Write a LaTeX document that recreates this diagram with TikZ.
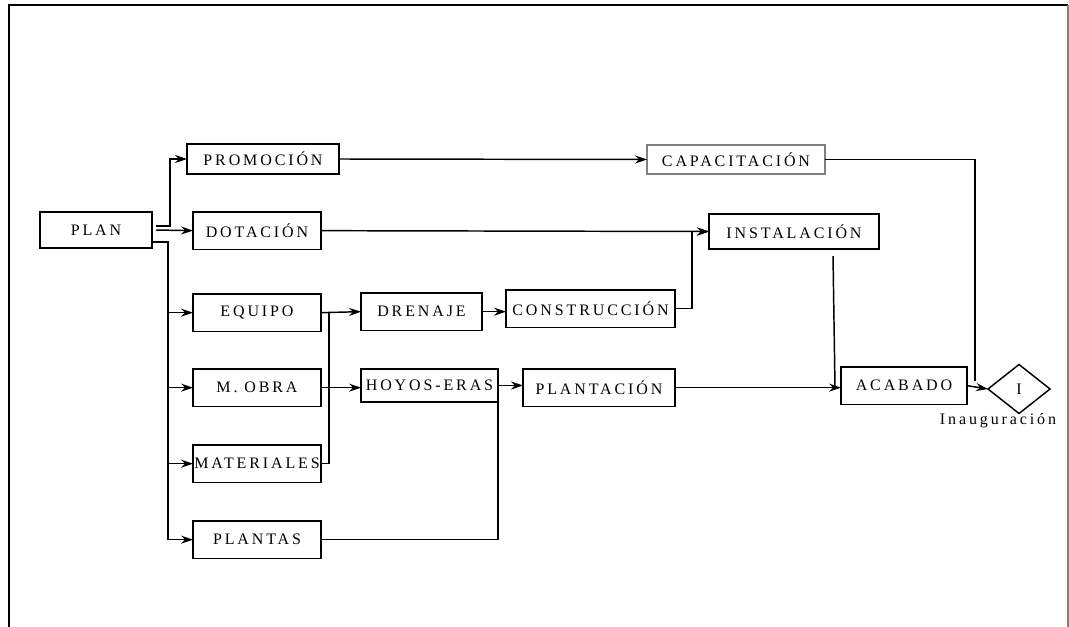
\documentclass[tikz,border=0pt]{standalone}
\usepackage{fontspec}
\setmainfont{Liberation Serif}[LetterSpace=18]
\usepackage{tikz}
\usetikzlibrary{arrows.meta,shapes.geometric}

\begin{document}
\begin{tikzpicture}[x=0.75pt, y=-0.75pt, outer sep=0pt, line width=1.1pt, font=\fontsize{12}{14}\selectfont]

\tikzstyle{box}=[draw, rectangle, inner sep=0pt, minimum height=28pt, anchor=north west]
\tikzstyle{flow}=[-{Stealth[length=9pt, width=6pt, inset=3pt]}]
\useasboundingbox (0,0) rectangle (1069,627);
\draw (9,627) -- (9,5) -- (1068,5); \draw[gray] (1068,5) -- (1068,627);

\node[box, minimum width=84pt, minimum height=27pt] (plan) at (40,212) {PLAN};
\node[box, minimum width=114pt, minimum height=22.5pt] (promocion) at (187,144) {PROMOCIÓN}; \node[box, minimum width=96pt] (dotacion) at (193,212) {DOTACIÓN};
\node[box, minimum width=96pt] (equipo) at (193,294) {EQUIPO}; \node[box, minimum width=96pt] (mobra) at (193,369) {M. OBRA};
\node[box, minimum width=96pt] (materiales) at (193,445) {MATERIALES}; \node[box, minimum width=96pt] (plantas) at (193,521) {PLANTAS};
\node[box, minimum width=90.75pt] (drenaje) at (361,293) {DRENAJE}; \node[box, minimum width=102.75pt, minimum height=24.75pt] (hoyos) at (361,369) {HOYOS-ERAS};
\node[box, minimum width=126.75pt] (construccion) at (506,290) {CONSTRUCCIÓN}; \node[box, minimum width=114pt] (plantacion) at (523,369) {PLANTACIÓN};
\node[box, minimum width=127.5pt, minimum height=26.25pt] (instalacion) at (709,214) {INSTALACIÓN};
\node[box, draw=gray, minimum width=133.5pt, minimum height=21.75pt] (capacitacion) at (647,145) {CAPACITACIÓN};
\node[box, minimum width=94.5pt] (acabado) at (841,367) {ACABADO};
\node[draw, diamond, inner sep=0pt, minimum width=46.5pt, minimum height=36.75pt] (inaug) at (1019,389) {I};
\node[anchor=base, inner sep=0pt] (inaugtxt) at (998,424) {Inauguración};

\coordinate (trunk) at (168,242); \coordinate (merge) at (329,313); \coordinate (join) at (835,387); \coordinate (cap) at (975,381);

% salidas del plan
\draw[flow] ([shift={(4,-4)}]plan.east) -- ++(14,0) |- (promocion.west);
\draw[flow] ([xshift=3pt]plan.east) -- (dotacion.west);
\draw[flow] (plan.south east |- trunk) -- (trunk) |- (plantas.west);
\draw[flow] (trunk |- equipo.west) -- (equipo.west); \draw[flow] (trunk |- mobra.west) -- (mobra.west); \draw[flow] (trunk |- materiales.west) -- (materiales.west);

% recursos
\draw[flow] (equipo.east) -- (drenaje.west);
\draw (materiales.east) -| (merge);
\draw[flow] (mobra.east) -- (mobra.east -| hoyos.west);
\draw (plantas.east) -| (hoyos.south east);

% obras
\draw[flow] (drenaje.east) -- (drenaje.east -| construccion.west);
\draw[flow] (construccion.east) -- ++(17,0) |- (instalacion.west);
\draw[flow] (dotacion.east) -- (instalacion.west);
\draw[flow] (hoyos.east) -- (hoyos.east -| plantacion.west);
\draw[flow] (promocion.east) -- (capacitacion.west);
\draw[flow] (plantacion.east) -- (plantacion.east -| acabado.west);
\draw ([shift={(-46,7)}]instalacion.south east) -- (join);
\draw[flow] (acabado.east) -- (inaug.west);
\draw (capacitacion.east) -| (cap);

\end{tikzpicture}
\end{document}
